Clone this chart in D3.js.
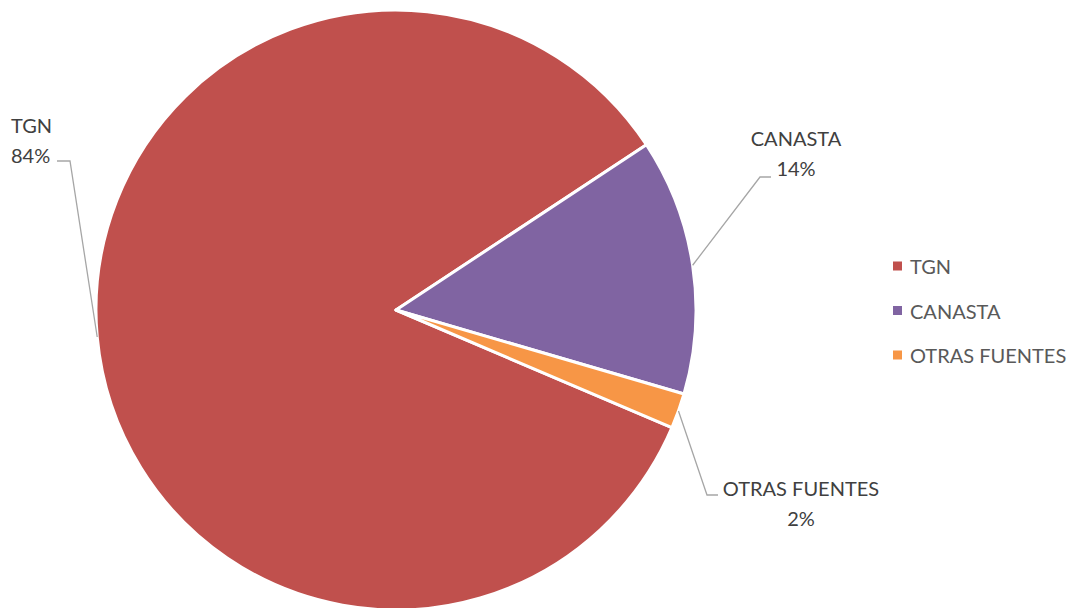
<!DOCTYPE html>
<html><head><meta charset="utf-8">
<script src="https://cdn.jsdelivr.net/npm/d3@7"></script>
<style>body{margin:0;background:#fff}svg{display:block}text{font-family:Lato,"Open Sans",sans-serif;fill:#404040}</style>
</head><body>
<svg id="c" width="1072" height="608"></svg>
<script>
const categories = ["TGN", "CANASTA", "OTRAS FUENTES"];
const values = [84.3, 13.8, 1.9];
const colors = ["#C0504D", "#8064A2", "#F79646"];

const svg = d3.select("#c");
const cx = 396, cy = 310, R = 300;
const data = categories.map((c, i) => ({name: c, value: values[i], color: colors[i]}));
const total = d3.sum(values);
const start = 113.1 * Math.PI / 180;
const pie = d3.pie().value(d => d.value).sort(null).startAngle(start).endAngle(start + 2 * Math.PI);
const arcs = pie(data);
const arc = d3.arc().innerRadius(0).outerRadius(R);
const g = svg.append("g").attr("transform", `translate(${cx},${cy})`);
g.selectAll("path").data(arcs).join("path")
  .attr("d", arc).attr("fill", d => d.data.color)
  .attr("stroke", "#fff").attr("stroke-width", 3).attr("stroke-linejoin", "round");

const labelPos = [
  {x: 11, y: 133, anchor: "start", lx1: 70, lx2: 57, ly: 161},
  {x: 796, y: 146, anchor: "middle", lx1: 760, lx2: 771, ly: 177},
  {x: 801, y: 496, anchor: "middle", lx1: 707, lx2: 718, ly: 495}
];
arcs.forEach((a, i) => {
  const m = (a.startAngle + a.endAngle) / 2;
  const px = cx + R * Math.sin(m), py = cy - R * Math.cos(m);
  const L = labelPos[i];
  svg.append("polyline")
    .attr("points", `${px},${py} ${L.lx1},${L.ly} ${L.lx2},${L.ly}`)
    .attr("fill", "none").attr("stroke", "#a6a6a6").attr("stroke-width", 1.3);
  const t = svg.append("text").attr("text-anchor", L.anchor).attr("font-size", 20);
  t.append("tspan").attr("x", L.x).attr("y", L.y).text(a.data.name);
  t.append("tspan").attr("x", L.x).attr("y", L.y + 30).text(Math.round(a.data.value / total * 100) + "%");
});

const leg = svg.append("g").attr("transform", "translate(893,0)");
data.forEach((d, i) => {
  const y = 266 + i * 44.5;
  leg.append("rect").attr("x", 0).attr("y", y - 4.5).attr("width", 9).attr("height", 9).attr("fill", d.color);
  leg.append("text").attr("x", 17).attr("y", y + 8).attr("font-size", 20).style("fill", "#595959").text(d.name);
});
</script>
</body></html>
